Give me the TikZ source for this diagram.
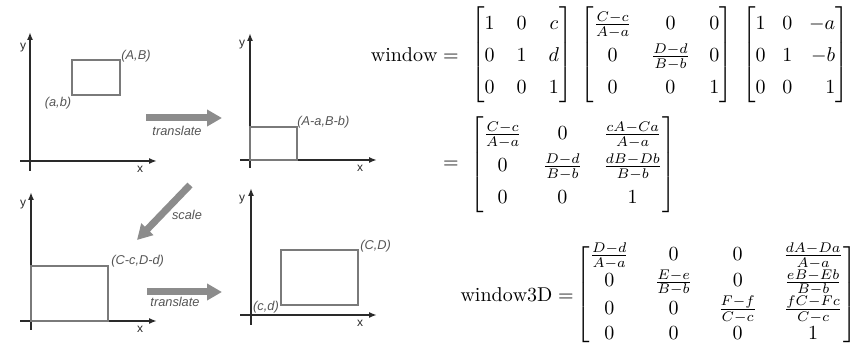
\documentclass[tikz,border=0pt]{standalone}
\usepackage{amsmath}
\usepackage{mathtools}
\usepackage{fontspec}
\newfontfamily\lblfont{Liberation Sans}
\usetikzlibrary{arrows.meta}
\definecolor{axisc}{HTML}{2A2A2A}
\definecolor{boxc}{HTML}{7A7A7A}
\definecolor{lblc}{HTML}{555555}
\definecolor{arrc}{HTML}{8C8C8C}
\begin{document}
\begin{tikzpicture}[x=0.5pt,y=-0.5pt,
  axis/.style={draw=axisc, line width=1pt, -{Latex[length=4pt,width=3pt]}},
  box/.style={draw=boxc, line width=0.65pt},
  lbl/.style={text=lblc, font=\lblfont\itshape\fontsize{6.4}{7}\selectfont, inner sep=0pt},
  axlbl/.style={text=axisc, font=\lblfont\fontsize{6}{7}\selectfont, inner sep=0pt},
  big/.style={draw=arrc, line width=3.5pt, -{Triangle[length=7.5pt,width=8pt]}},
  eq/.style={inner sep=0pt},
  eqs/.style={eq, execute at begin node={\setlength{\arraycolsep}{#1}\renewcommand{\arraystretch}{1.32}}},
]
\useasboundingbox (0,0) rectangle (863,346);
\begin{scope}
\clip (0,0) rectangle (863,346);
% ---------- panel 1 ----------
\coordinate (p1yb) at (30,171); \coordinate (p1yt) at (30,32);
\coordinate (p1xl) at (20,161); \coordinate (p1xr) at (157,161);
\draw[axis] (p1yb) -- (p1yt);
\draw[axis] (p1xl) -- (p1xr);
\node[axlbl] (p1y) at (23,48) {y};
\node[axlbl] (p1x) at (140,169) {x};
\draw[box] (72,60) rectangle (120,95);
\node[lbl, anchor=west] (AB) at (121,56) {(A,B)};
\node[lbl] (ab) at (58,103) {(a,b)};
% ---------- panel 2 ----------
\coordinate (p2yb) at (250,168); \coordinate (p2yt) at (250,33);
\coordinate (p2xl) at (240,160); \coordinate (p2xr) at (377,160);
\draw[axis] (p2yb) -- (p2yt);
\draw[axis] (p2xl) -- (p2xr);
\node[axlbl] (p2y) at (242,45) {y};
\node[axlbl] (p2x) at (360,168) {x};
\draw[box] (250,127) rectangle (297,160);
\node[lbl, anchor=west] (AaBb) at (297,122) {(A-a,B-b)};
% ---------- panel 3 ----------
\coordinate (p3yb) at (31,330); \coordinate (p3yt) at (31,192);
\coordinate (p3xl) at (20,321); \coordinate (p3xr) at (157,321);
\draw[axis] (p3yb) -- (p3yt);
\draw[axis] (p3xl) -- (p3xr);
\node[axlbl] (p3y) at (23,205) {y};
\node[axlbl] (p3x) at (140,329) {x};
\draw[box] (31,266) rectangle (108,321);
\node[lbl, anchor=west] (CcDd) at (111,261) {(C-c,D-d)};
% ---------- panel 4 ----------
\coordinate (p4yb) at (251,325); \coordinate (p4yt) at (251,188);
\coordinate (p4xl) at (240,315); \coordinate (p4xr) at (377,315);
\draw[axis] (p4yb) -- (p4yt);
\draw[axis] (p4xl) -- (p4xr);
\node[axlbl] (p4y) at (242,200) {y};
\node[axlbl] (p4x) at (360,323) {x};
\draw[box] (281,250) rectangle (358,305);
\node[lbl, anchor=west] (CD) at (360,246) {(C,D)};
\node[lbl] (cd) at (266,307) {(c,d)};
% ---------- big arrows ----------
\coordinate (t1s) at (146,118); \coordinate (t1e) at (222,118);
\draw[big] (t1s) -- (t1e);
\node[lbl] (tr1) at (177,131) {translate};
\coordinate (s1s) at (190,185); \coordinate (s1e) at (137,240);
\draw[big] (s1s) -- (s1e);
\node[lbl] (sc) at (187,215) {scale};
\coordinate (t2s) at (147,292); \coordinate (t2e) at (222,292);
\draw[big] (t2s) -- (t2e);
\node[lbl] (tr2) at (175,302) {translate};
% ---------- equation 1 ----------
\node[eq, anchor=east] (w1) at (459,55) {$\mathrm{window} =$};
\node[eqs=5.5pt, anchor=west] (m1) at (471,55) {$\displaystyle\begin{bmatrix}1&0&c\\0&1&d\\0&0&1\end{bmatrix}$};
\node[eqs=4.8pt, anchor=west] (m2) at (580,55) {$\displaystyle\begin{bmatrix}\frac{C-c}{A-a}&0&0\\0&\frac{D-d}{B-b}&0\\0&0&1\end{bmatrix}$};
\node[eqs=4.2pt, anchor=east] (m3) at (849,55) {$\displaystyle\begin{bmatrix*}[r]1&0&-a\\0&1&-b\\0&0&1\end{bmatrix*}$};
% ---------- equation 2 ----------
\node[eq, anchor=east] (w2) at (459,165) {$=$};
\node[eqs=5.3pt, anchor=west] (m4) at (470,165) {$\displaystyle\begin{bmatrix}\frac{C-c}{A-a}&0&\frac{cA-Ca}{A-a}\\0&\frac{D-d}{B-b}&\frac{dB-Db}{B-b}\\0&0&1\end{bmatrix}$};
% ---------- equation 3 ----------
\node[eq, anchor=east] (w3) at (574,295) {$\mathrm{window3D} =$};
\node[eq, anchor=west, execute at begin node={\setlength{\arraycolsep}{6.5pt}}] (m5) at (576,295) {$\displaystyle\begin{bmatrix}\frac{D-d}{A-a}&0&0&\frac{dA-Da}{A-a}\\
 0&\frac{E-e}{B-b}&0&\frac{eB-Eb}{B-b}\\
 0&0&\frac{F-f}{C-c}&\frac{fC-Fc}{C-c}\\
 0&0&0&1\end{bmatrix}$};
\end{scope}
\end{tikzpicture}
\end{document}
